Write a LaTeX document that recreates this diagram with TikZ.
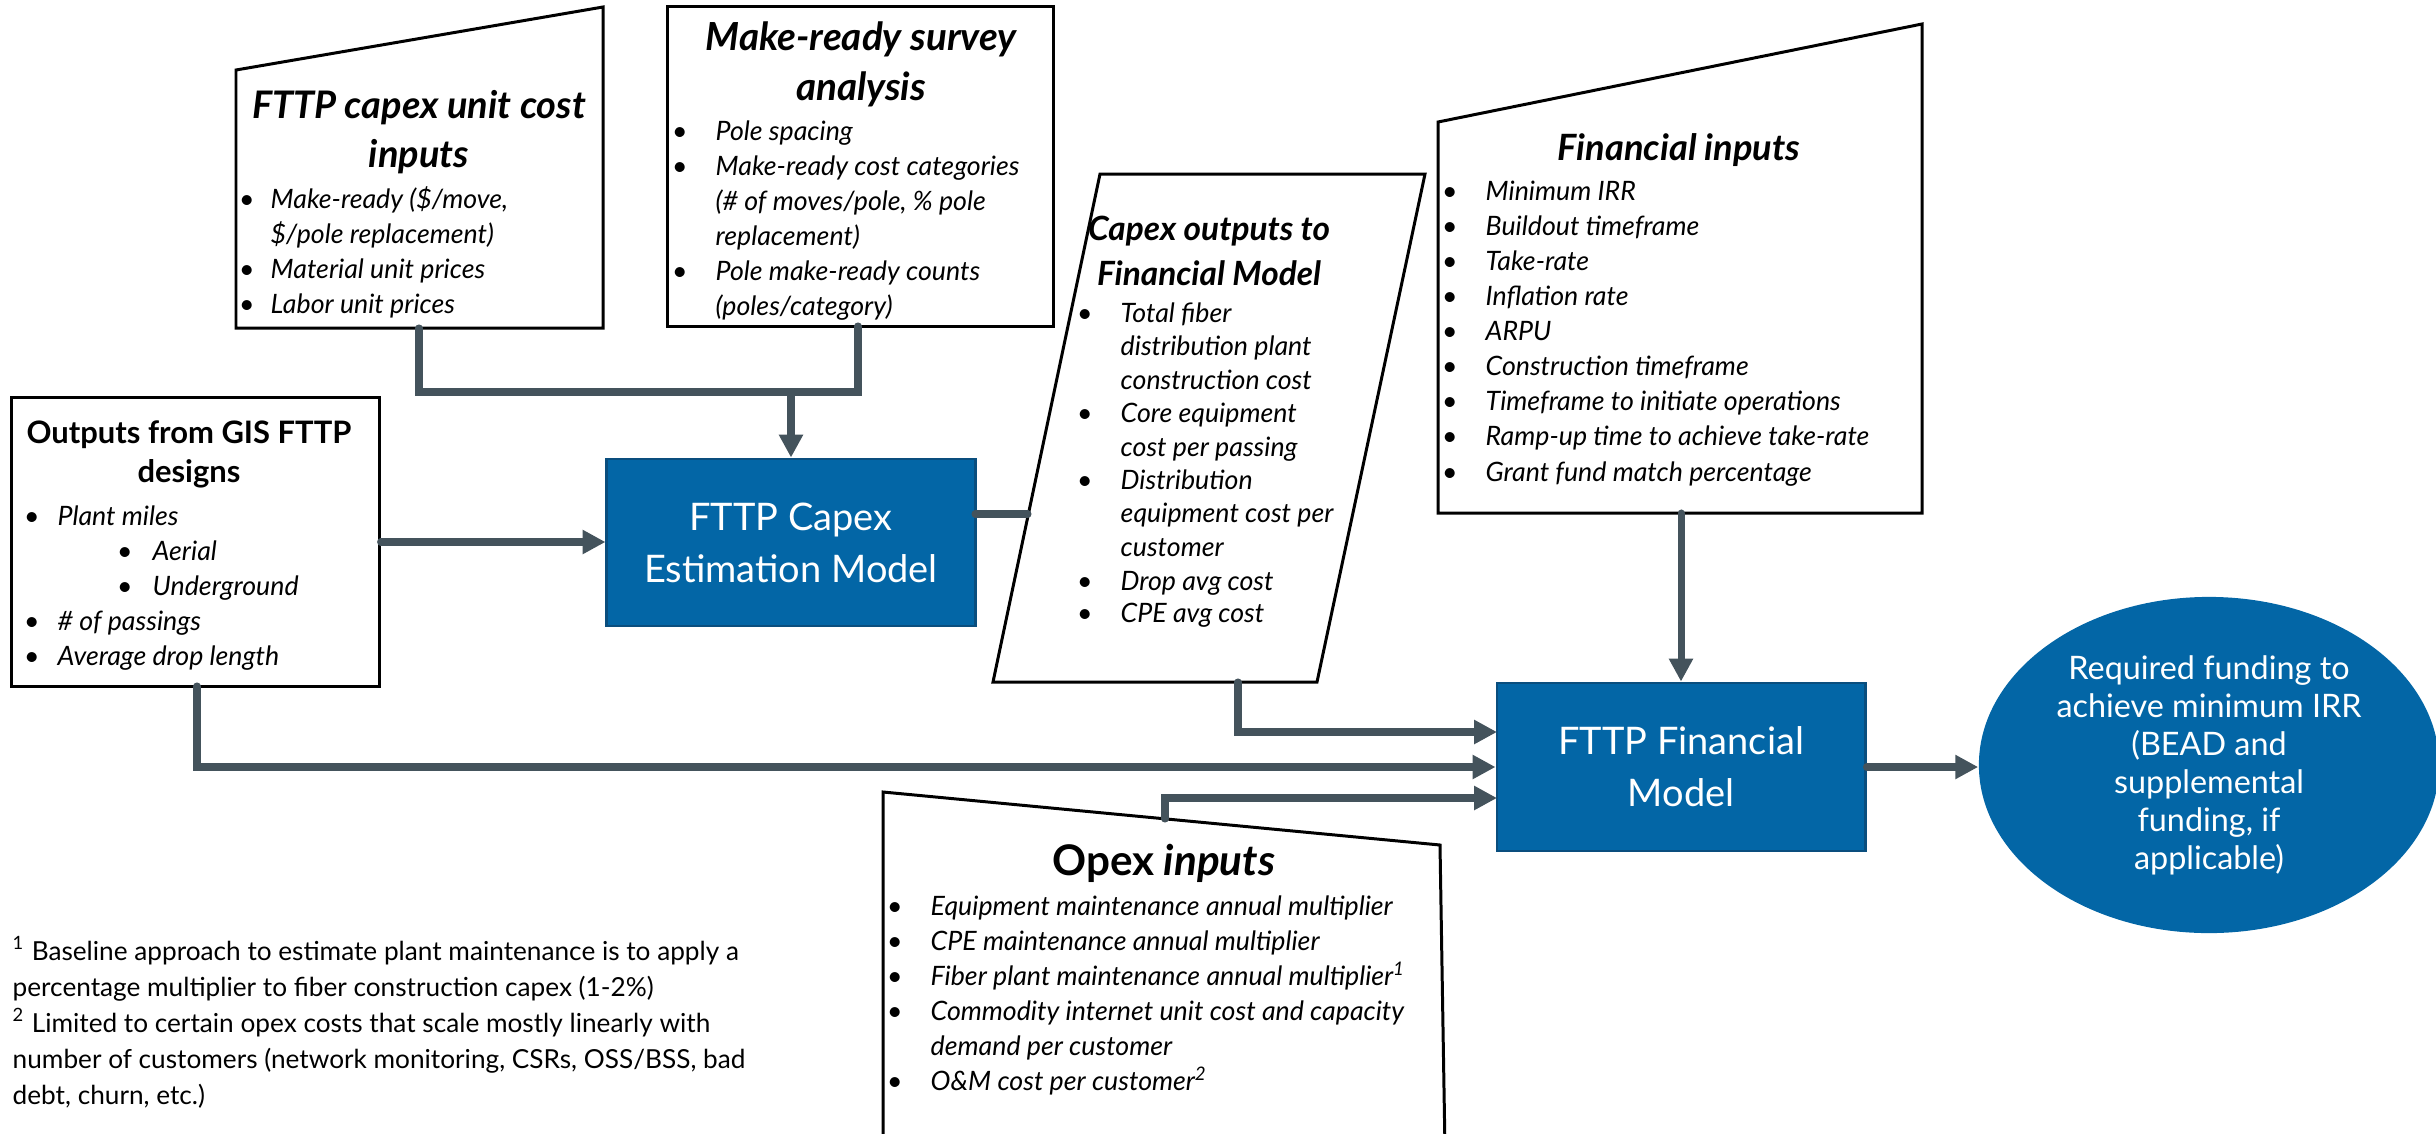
\documentclass[tikz,border=0pt]{standalone}
\usepackage{fontspec}
\setmainfont{Lato}
\usetikzlibrary{arrows.meta,shapes.geometric}
\definecolor{conncol}{HTML}{44535C}
\definecolor{bluefill}{HTML}{0366A6}
\definecolor{blueline}{HTML}{0A4E7E}
\newcommand\bu[1]{\llap{\textbullet\hspace{#1}}}
\newcommand\tsz[1]{\fontsize{#1}{14}\selectfont\bfseries\itshape}
\begin{document}
\begin{tikzpicture}[x=0.01cm,y=-0.01cm,
  body/.style={font=\fontsize{7.6}{10}\selectfont\itshape, anchor=base west, inner sep=0pt},
  ttl/.style={font=\tsz{9.6}, anchor=base, inner sep=0pt},
  ttlup/.style={font=\fontsize{8.8}{12}\selectfont\bfseries, anchor=base, inner sep=0pt},
  foot/.style={font=\fontsize{7.45}{10.2}\selectfont, anchor=base west, inner sep=0pt},
  boxline/.style={draw=black, line width=0.85pt, fill=white},
  rectbox/.style={draw=black, line width=0.85pt, fill=white, inner sep=0pt},
  bluebox/.style={draw=blueline, line width=0.8pt, fill=bluefill, text=white, align=center, inner sep=0pt, font=\fontsize{10.8}{14.8}\selectfont},
  conn/.style={draw=conncol, line width=2pt, line cap=round},
  arr/.style={conn, -{Triangle[length=6.5pt,width=6.5pt]}}
]
\useasboundingbox (0,0) rectangle (2436,1133);

% ---- FTTP capex unit cost inputs
\draw[boxline] (236,70) -- (603,7) -- (603,328) -- (236,328) -- cycle;
\coordinate (c1b) at (419,328);
\node[ttl, font=\tsz{10.8}] (c1t1) at (419,118) {FTTP capex unit cost};
\node[ttl, font=\tsz{10.8}] (c1t2) at (419,167) {inputs};
\node[body] (c1l1) at (270,208) {\bu{0.16cm}Make-ready (\$/move,};
\node[body] (c1l2) at (270,243) {\$/pole replacement)};
\node[body] (c1l3) at (270,278) {\bu{0.16cm}Material unit prices};
\node[body] (c1l4) at (270,313) {\bu{0.16cm}Labor unit prices};

% ---- Make-ready survey analysis
\node[rectbox, minimum width=3.85cm, minimum height=3.19cm] (mr) at (860.5,166.5) {};
\coordinate (mrb) at (858,326);
\node[ttl, font=\tsz{11}] (mrt1) at (861,50) {Make-ready survey};
\node[ttl, font=\tsz{11}] (mrt2) at (861,100) {analysis};
\node[body] (mrl1) at (715,140) {\bu{0.28cm}Pole spacing};
\node[body] (mrl2) at (715,175) {\bu{0.28cm}Make-ready cost categories};
\node[body] (mrl3) at (715,210) {(\# of moves/pole, \% pole};
\node[body] (mrl4) at (715,245) {replacement)};
\node[body] (mrl5) at (715,280) {\bu{0.28cm}Pole make-ready counts};
\node[body] (mrl6) at (715,315) {(poles/category)};

% ---- Outputs from GIS FTTP designs
\node[rectbox, minimum width=3.67cm, minimum height=2.88cm] (gis) at (195.5,542) {};
\coordinate (gisb) at (197,686);
\node[ttlup] (gist1) at (189,443) {Outputs from GIS FTTP};
\node[ttlup] (gist2) at (189,482) {designs};
\node[body] (gisl1) at (57,525) {\bu{0.18cm}Plant miles};
\node[body] (gisl2) at (152,560) {\bu{0.2cm}Aerial};
\node[body] (gisl3) at (152,595) {\bu{0.2cm}Underground};
\node[body] (gisl4) at (57,630) {\bu{0.18cm}\# of passings};
\node[body] (gisl5) at (57,665) {\bu{0.18cm}Average drop length};

% ---- FTTP Capex Estimation Model
\node[bluebox, minimum width=3.68cm, minimum height=1.67cm] (cem) at (791,542.5) {FTTP Capex\\Estimation Model};
\coordinate (cemr) at (975,514);
\coordinate (cemt) at (791,392);

% ---- Capex outputs to Financial Model
\draw[boxline] (1100,174) -- (1425,174) -- (1317,682) -- (993,682) -- cycle;
\coordinate (cob) at (1238,682);
\coordinate (col) at (1028,514);
\node[ttl, font=\tsz{9.5}] (cot1) at (1209,240) {Capex outputs to};
\node[ttl, font=\tsz{9.5}] (cot2) at (1209,285) {Financial Model};
\node[body] (col1) at (1120,322) {\bu{0.28cm}Total fiber};
\node[body] (col2) at (1120,355) {distribution plant};
\node[body] (col3) at (1120,389) {construction cost};
\node[body] (col4) at (1120,422) {\bu{0.28cm}Core equipment};
\node[body] (col5) at (1120,456) {cost per passing};
\node[body] (col6) at (1120,489) {\bu{0.28cm}Distribution};
\node[body] (col7) at (1120,522) {equipment cost per};
\node[body] (col8) at (1120,556) {customer};
\node[body] (col9) at (1120,590) {\bu{0.28cm}Drop avg cost};
\node[body] (col10) at (1120,622) {\bu{0.28cm}CPE avg cost};

% ---- Financial inputs
\draw[boxline] (1438,122) -- (1922,24) -- (1922,513) -- (1438,513) -- cycle;
\coordinate (fib) at (1681,513);
\node[ttl, font=\tsz{10.3}] (fit) at (1679,160) {Financial inputs};
\node[body] (fil1) at (1485,200) {\bu{0.28cm}Minimum IRR};
\node[body] (fil2) at (1485,235) {\bu{0.28cm}Buildout timeframe};
\node[body] (fil3) at (1485,270) {\bu{0.28cm}Take-rate};
\node[body] (fil4) at (1485,305) {\bu{0.28cm}Inflation rate};
\node[body] (fil5) at (1485,340) {\bu{0.28cm}ARPU};
\node[body] (fil6) at (1485,375) {\bu{0.28cm}Construction timeframe};
\node[body] (fil7) at (1485,410) {\bu{0.28cm}Timeframe to initiate operations};
\node[body] (fil8) at (1485,445) {\bu{0.28cm}Ramp-up time to achieve take-rate};
\node[body] (fil9) at (1485,481) {\bu{0.28cm}Grant fund match percentage};

% ---- FTTP Financial Model
\node[bluebox, minimum width=3.68cm, minimum height=1.68cm] (ffm) at (1681,767) {FTTP Financial\\Model};
\coordinate (ffm1) at (1497,732);
\coordinate (ffm3) at (1497,798);

% ---- Result ellipse
\node[ellipse, fill=bluefill, minimum width=4.6cm, minimum height=3.36cm, inner sep=0pt, text=white, align=center, font=\fontsize{9.2}{10.8}\selectfont] (req) at (2209,765) {Required funding to\\achieve minimum IRR\\(BEAD and\\supplemental\\funding, if\\applicable)};

% ---- Opex inputs
\begin{scope}
\clip (0,0) rectangle (2436,1133);
\draw[boxline] (883,1150) -- (883,792) -- (1440,845) -- (1445,1150);
\end{scope}
\coordinate (opt) at (1165,819);
\node[ttl, font=\tsz{12}] (opxt) at (1164,875) {\textup{Opex} inputs};
\node[body] (opl1) at (930,915) {\bu{0.28cm}Equipment maintenance annual multiplier};
\node[body] (opl2) at (930,950) {\bu{0.28cm}CPE maintenance annual multiplier};
\node[body] (opl3) at (930,985) {\bu{0.28cm}Fiber plant maintenance annual multiplier\textsuperscript{1}};
\node[body] (opl4) at (930,1020) {\bu{0.28cm}Commodity internet unit cost and capacity};
\node[body] (opl5) at (930,1055) {demand per customer};
\node[body] (opl6) at (930,1090) {\bu{0.28cm}O\&M cost per customer\textsuperscript{2}};

% ---- Footnotes
\node[foot] (fn1) at (12,960) {\textsuperscript{1} Baseline approach to estimate plant maintenance is to apply a};
\node[foot] (fn2) at (12,996) {percentage multiplier to fiber construction capex (1-2\%)};
\node[foot] (fn3) at (12,1032) {\textsuperscript{2} Limited to certain opex costs that scale mostly linearly with};
\node[foot] (fn4) at (12,1068) {number of customers (network monitoring, CSRs, OSS/BSS, bad};
\node[foot] (fn5) at (12,1104) {debt, churn, etc.)};

% ---- Connectors
\draw[conn] (c1b) |- (mrb |- cemt) -- (mrb);
\draw[arr] (cemt) -- (cem.north);
\draw[arr] (gis.east) -- (gis.east -| cem.west);
\draw[conn] (cemr) -- (col);
\draw[arr] (cob) |- (ffm1);
\draw[arr] (gisb) |- (ffm.west);
\draw[arr] (opt) |- (ffm3);
\draw[arr] (fib) -- (ffm.north);
\draw[arr] (ffm.east) -- (ffm.east -| req.west);
\end{tikzpicture}
\end{document}
